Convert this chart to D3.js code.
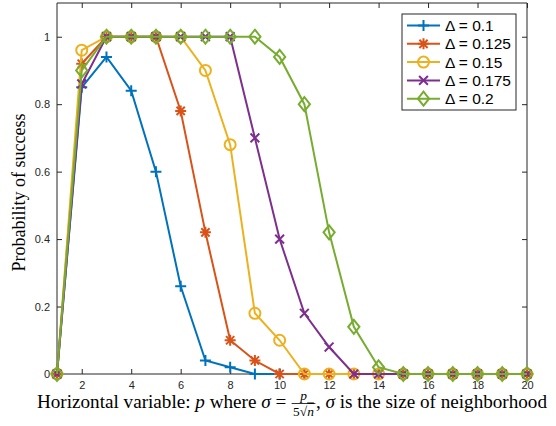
<!DOCTYPE html>
<html><head><meta charset="utf-8">
<script src="https://cdn.jsdelivr.net/npm/d3@7"></script>
<style>
body{margin:0;background:#fff;}
svg{display:block;}
</style></head>
<body>
<svg id="chart" width="556" height="426"></svg>
<script>
const xValues = [1,2,3,4,5,6,7,8,9,10,11,12,13,14,15,16,17,18,19,20];
const seriesNames = ["\u0394 = 0.1","\u0394 = 0.125","\u0394 = 0.15","\u0394 = 0.175","\u0394 = 0.2"];
const delta01   = [0,0.85,0.94,0.84,0.60,0.26,0.04,0.02,0,0,0,0,0,0,0,0,0,0,0,0];
const delta0125 = [0,0.92,1,1,1,0.78,0.42,0.10,0.04,0,0,0,0,0,0,0,0,0,0,0];
const delta015  = [0,0.96,1,1,1,1,0.90,0.68,0.18,0.10,0,0,0,0,0,0,0,0,0,0];
const delta0175 = [0,0.86,1,1,1,1,1,1,0.70,0.40,0.18,0.08,0,0,0,0,0,0,0,0];
const delta02   = [0,0.90,1,1,1,1,1,1,1,0.94,0.80,0.42,0.14,0.02,0,0,0,0,0,0];
const xTicks = [2,4,6,8,10,12,14,16,18,20];
const yTicks = [0,0.2,0.4,0.6,0.8,1];
const colors = ["#0072BD","#D95319","#EDB120","#7E2F8E","#77AC30"];
const markers = ["plus","star","circle","cross","diamond"];
const allSeries = [delta01,delta0125,delta015,delta0175,delta02];

const svg = d3.select("#chart");
const L=57, R=527, T=3, B=374;
const x = d3.scaleLinear().domain([1,20]).range([L,R]);
const y = d3.scaleLinear().domain([0,1.1]).range([B,T]);
const axisColor = "#262626";
const tickFont = "Liberation Sans, Arial, sans-serif";

const gx = svg.append("g").attr("transform",`translate(0,${B})`)
  .call(d3.axisBottom(x).tickValues(xTicks).tickSize(-5).tickPadding(7).tickFormat(d3.format("d")));
const gxt = svg.append("g").attr("transform",`translate(0,${T})`)
  .call(d3.axisTop(x).tickValues(xTicks).tickSize(-5).tickFormat(""));
const gy = svg.append("g").attr("transform",`translate(${L},0)`)
  .call(d3.axisLeft(y).tickValues(yTicks).tickSize(-5).tickPadding(7).tickFormat(d=>d===0?"0":d===1?"1":d3.format(".1f")(d)));
const gyr = svg.append("g").attr("transform",`translate(${R},0)`)
  .call(d3.axisRight(y).tickValues(yTicks).tickSize(-5).tickFormat(""));
[gx,gxt,gy,gyr].forEach(g=>{
  g.select(".domain").attr("stroke",axisColor).attr("stroke-width",1);
  g.selectAll(".tick line").attr("stroke",axisColor).attr("stroke-width",1);
  g.selectAll(".tick text").attr("fill",axisColor).attr("font-family",tickFont).attr("font-size",11);
});
gx.select(".domain").attr("d",`M${L},0H${R}`);
gxt.select(".domain").attr("d",`M${L},0H${R}`);
gy.select(".domain").attr("d",`M0,${T}V${B}`);
gyr.select(".domain").attr("d",`M0,${T}V${B}`);

function drawMarker(g, type, cx, cy, color){
  const s=5.5;
  if(type==="plus"){
    g.append("path").attr("d",`M${cx-s},${cy}H${cx+s}M${cx},${cy-s}V${cy+s}`).attr("stroke",color).attr("stroke-width",2).attr("fill","none");
  } else if(type==="cross"){
    const t=s*0.8;
    g.append("path").attr("d",`M${cx-t},${cy-t}L${cx+t},${cy+t}M${cx-t},${cy+t}L${cx+t},${cy-t}`).attr("stroke",color).attr("stroke-width",2).attr("fill","none");
  } else if(type==="star"){
    const t=s*0.75;
    g.append("path").attr("d",`M${cx-s},${cy}H${cx+s}M${cx},${cy-s}V${cy+s}M${cx-t},${cy-t}L${cx+t},${cy+t}M${cx-t},${cy+t}L${cx+t},${cy-t}`).attr("stroke",color).attr("stroke-width",2).attr("fill","none");
  } else if(type==="circle"){
    g.append("circle").attr("cx",cx).attr("cy",cy).attr("r",5.5).attr("stroke",color).attr("stroke-width",2).attr("fill","none");
  } else if(type==="diamond"){
    const d=7;
    g.append("path").attr("d",`M${cx},${cy-d}L${cx+d*0.8},${cy}L${cx},${cy+d}L${cx-d*0.8},${cy}Z`).attr("stroke",color).attr("stroke-width",2).attr("fill","none");
  }
}

const line = d3.line().x((d,i)=>x(xValues[i])).y(d=>y(d));
allSeries.forEach((vals,k)=>{
  const g = svg.append("g");
  g.append("path").datum(vals).attr("d",line).attr("fill","none").attr("stroke",colors[k]).attr("stroke-width",2);
  vals.forEach((v,i)=>drawMarker(g, markers[k], x(xValues[i]), y(v), colors[k]));
});

// legend
const lg = svg.append("g");
const lx0=402, ly0=14, lw=114, lh=96;
lg.append("rect").attr("x",lx0).attr("y",ly0).attr("width",lw).attr("height",lh)
  .attr("fill","#fff").attr("stroke",axisColor).attr("stroke-width",1);
seriesNames.forEach((name,k)=>{
  const yy = ly0 + 11.5 + k*18.3;
  lg.append("line").attr("x1",lx0+5).attr("x2",lx0+38).attr("y1",yy).attr("y2",yy).attr("stroke",colors[k]).attr("stroke-width",2);
  drawMarker(lg, markers[k], lx0+21.5, yy, colors[k]);
  lg.append("text").attr("x",lx0+43).attr("y",yy).attr("dy","0.35em")
    .attr("font-family",tickFont).attr("font-size",15.5).attr("fill","#000").text(name);
});

// y label
const serif = "Liberation Serif, Times New Roman, serif";
svg.append("text").attr("transform",`translate(25,${(T+B)/2 + 4}) rotate(-90)`)
  .attr("text-anchor","middle").attr("font-family",serif).attr("font-size",18).attr("fill","#000")
  .text("Probability of success");

// x label with inline fraction
const xl = svg.append("g").attr("fill","#000").attr("font-family",serif);
const base = 408;
const parts = [
  {t:"Horizontal variable: "},
  {t:"p", it:true},
  {t:" where "},
  {t:"\u03C3", it:true},
  {t:" = "},
  {frac:true},
  {t:", "},
  {t:"\u03C3", it:true},
  {t:" is the size of neighborhood"}
];
function layout(fs){
  xl.selectAll("*").remove();
  const items=[]; let total=0;
  const fsm = fs*0.7;
  parts.forEach(p=>{
    if(p.frac){
      const fg = xl.append("g");
      const num = fg.append("text").attr("font-size",fsm).attr("font-style","italic").attr("text-anchor","middle").text("p");
      const den = fg.append("text").attr("font-size",fsm).attr("text-anchor","middle");
      den.append("tspan").text("5\u221A");
      den.append("tspan").attr("font-style","italic").attr("text-decoration","overline").text("n");
      const w = Math.max(num.node().getComputedTextLength(), den.node().getComputedTextLength())+4;
      const bar = fg.append("line").attr("stroke","#000").attr("stroke-width",0.8);
      items.push({w, frac:{num,den,bar}});
      total+=w;
    } else {
      const t = xl.append("text").attr("font-size",fs).attr("y",base).style("white-space","pre").text(p.t);
      if(p.it) t.attr("font-style","italic");
      const w = t.node().getComputedTextLength();
      items.push({node:t, w});
      total+=w;
    }
  });
  return {items,total};
}
let res = layout(17);
const targetW = 511;
res = layout(17*targetW/res.total);
let cx = 292 - res.total/2;
res.items.forEach(it=>{
  if(it.frac){
    const mid = cx + it.w/2;
    it.frac.num.attr("x",mid).attr("y",base-8.5);
    it.frac.den.attr("x",mid).attr("y",base+7.5);
    it.frac.bar.attr("x1",cx+0.5).attr("x2",cx+it.w-0.5).attr("y1",base-4.5).attr("y2",base-4.5);
  } else {
    it.node.attr("x",cx);
  }
  cx+=it.w;
});
</script>
</body></html>
